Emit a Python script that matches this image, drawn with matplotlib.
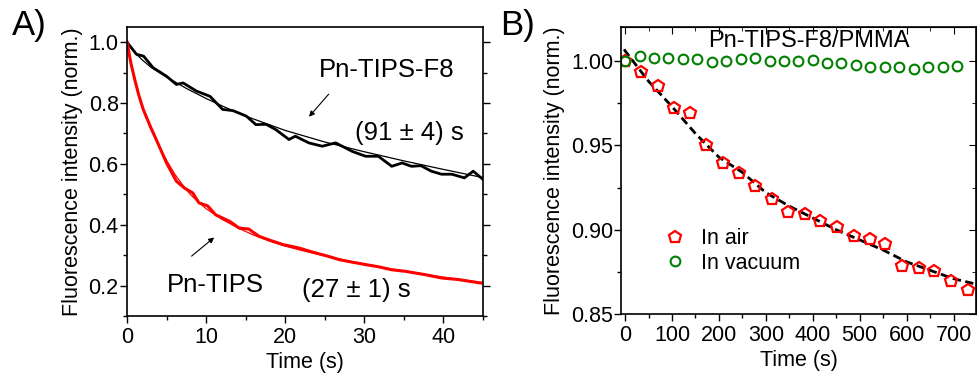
import matplotlib.pyplot as plt
from matplotlib.ticker import MultipleLocator

plt.rcParams['font.family'] = ['Liberation Sans', 'DejaVu Sans']
plt.rcParams['font.size'] = 15.5

# ---- panel A data ----
f8_t = [0, 1.2, 2.1, 3.3, 5.0, 6.25, 7.1, 8.8, 10.5, 12.1, 13.4, 15.1, 16.3, 17.6, 18.8,
        20.5, 21.3, 23.0, 24.7, 26.4, 28.5, 30.2, 31.8, 33.5, 34.8, 36.0, 37.2, 38.5,
        39.8, 41.1, 42.7, 43.8, 45]
f8_v = [1.0, 0.96, 0.954, 0.916, 0.888, 0.861, 0.866, 0.839, 0.822, 0.779, 0.775, 0.757,
        0.729, 0.73, 0.713, 0.68, 0.691, 0.669, 0.658, 0.669, 0.641, 0.625, 0.625, 0.592,
        0.603, 0.592, 0.594, 0.576, 0.566, 0.566, 0.554, 0.576, 0.55]
f8_fit_t = [0, 1, 2, 3, 5, 7.5, 10, 12.5, 15, 20, 25, 30, 35, 40, 45]
f8_fit_v = [1.0, 0.965, 0.94, 0.918, 0.885, 0.848, 0.815, 0.785, 0.757, 0.71, 0.672,
            0.64, 0.61, 0.582, 0.555]

tips_t = [0, 0.5, 1.0, 1.5, 2.05, 3.0, 3.7, 5.0, 6.25, 7.3, 8.3, 9.1, 10.2, 11.2, 13.0,
          14.2, 15.4, 16.7, 18.2, 19.7, 21.7, 23.5, 25.5, 26.9, 28.5, 30.2, 31.8, 33.5,
          35.2, 37.7, 39.8, 41.9, 44.6, 45]
tips_v = [1.0, 0.93, 0.875, 0.825, 0.779, 0.72, 0.68, 0.603, 0.543, 0.52, 0.505, 0.472,
          0.462, 0.433, 0.411, 0.389, 0.386, 0.362, 0.348, 0.335, 0.324, 0.31, 0.296,
          0.285, 0.277, 0.269, 0.262, 0.252, 0.247, 0.236, 0.225, 0.22, 0.209, 0.208]
tips_fit_t = [0, 0.5, 1, 1.5, 2, 3, 4, 5, 6, 7, 8, 9, 10, 12, 14, 16, 18, 20, 22, 25, 28,
              31, 34, 37, 40, 43, 45]
tips_fit_v = [1.0, 0.93, 0.872, 0.823, 0.78, 0.715, 0.66, 0.612, 0.568, 0.532, 0.5, 0.475,
              0.453, 0.418, 0.39, 0.366, 0.347, 0.33, 0.316, 0.298, 0.281, 0.266, 0.252,
              0.24, 0.228, 0.217, 0.21]

# ---- panel B data ----
air_t = [0, 34, 71, 104, 138, 173, 209, 243, 277, 313, 348, 383, 416, 452, 488, 521, 555,
         590, 626, 659, 695, 730]
air_v = [1.0, 0.9937, 0.9854, 0.972, 0.9694, 0.9502, 0.9394, 0.9334, 0.9261, 0.918,
         0.9105, 0.9094, 0.905, 0.9015, 0.8963, 0.8947, 0.8914, 0.8788, 0.8776, 0.8758,
         0.8699, 0.8643]
vac_t = [0, 31, 62, 92, 123, 154, 185, 215, 246, 277, 308, 338, 369, 400, 431, 461, 492,
         523, 554, 584, 615, 646, 677, 708]
vac_v = [1.0, 1.0032, 1.002, 1.002, 1.0012, 1.001, 0.9996, 0.9998, 1.0014, 1.002, 1.0002,
         1.0002, 0.9998, 1.0006, 0.9988, 0.999, 0.9976, 0.9964, 0.9962, 0.9964, 0.9955,
         0.9962, 0.9962, 0.9972]
air_fit_t = [-2, 0, 50, 100, 150, 200, 250, 300, 350, 400, 450, 500, 550, 600, 650, 700, 745]
air_fit_v = [1.007, 1.006, 0.988, 0.973, 0.957, 0.943, 0.934, 0.922, 0.914, 0.907, 0.900,
             0.894, 0.888, 0.881, 0.876, 0.871, 0.868]

fig = plt.figure(figsize=(9.77, 3.74), dpi=100)
axA = fig.add_axes([0.130, 0.155, 0.364, 0.773])
axB = fig.add_axes([0.636, 0.160, 0.363, 0.767])

# panel A
axA.plot(f8_t, f8_v, color='black', lw=2)
axA.plot(f8_fit_t, f8_fit_v, color='black', lw=0.9)
axA.plot(tips_t, tips_v, color='red', lw=2.2)
axA.plot(tips_fit_t, tips_fit_v, color='red', lw=0.9)
axA.set_xlim(0, 45)
axA.set_ylim(0.1, 1.05)
axA.xaxis.set_major_locator(MultipleLocator(10))
axA.xaxis.set_minor_locator(MultipleLocator(5))
axA.yaxis.set_major_locator(MultipleLocator(0.2))
axA.yaxis.set_minor_locator(MultipleLocator(0.1))
axA.set_xlabel('Time (s)', labelpad=3)
axA.set_ylabel('Fluorescence intensity (norm.)', labelpad=4)
axA.text(24.3, 0.907, 'Pn-TIPS-F8', fontsize=18.5, va='center')
axA.text(28.8, 0.703, '(91 ± 4) s', fontsize=18.5, va='center')
axA.text(5.0, 0.203, 'Pn-TIPS', fontsize=18.5, va='center')
axA.text(22.1, 0.187, '(27 ± 1) s', fontsize=18.5, va='center')
axA.annotate('', xy=(22.8, 0.748), xytext=(25.75, 0.836),
             arrowprops=dict(arrowstyle='-|>', color='black', lw=0.8, mutation_scale=8))
axA.annotate('', xy=(11.3, 0.364), xytext=(7.9, 0.291),
             arrowprops=dict(arrowstyle='-|>', color='black', lw=0.8, mutation_scale=8))
axA.tick_params(which='both', direction='out', right=True, top=False)

# panel B
axB.plot(air_fit_t, air_fit_v, color='black', lw=2, ls=(0, (3, 1.6)))
axB.plot(air_t, air_v, ls='none', marker='p', ms=9, mfc='none', mec='red', mew=1.6,
         label='In air')
axB.plot(vac_t, vac_v, ls='none', marker='o', ms=7, mfc='none', mec='green', mew=1.5,
         label='In vacuum')
axB.set_xlim(-8, 748)
axB.set_ylim(0.85, 1.02)
axB.xaxis.set_major_locator(MultipleLocator(100))
axB.xaxis.set_minor_locator(MultipleLocator(50))
axB.yaxis.set_major_locator(MultipleLocator(0.05))
axB.yaxis.set_minor_locator(MultipleLocator(0.025))
axB.set_xlabel('Time (s)', labelpad=3)
axB.set_ylabel('Fluorescence intensity (norm.)', labelpad=4)
axB.text(0.529, 0.952, 'Pn-TIPS-F8/PMMA', transform=axB.transAxes, ha='center',
         va='center', fontsize=17)
axB.legend(loc='center left', bbox_to_anchor=(0.06, 0.22), frameon=False,
           handletextpad=0.6, labelspacing=0.15, handlelength=1.2, fontsize=15.5)
axB.tick_params(which='both', direction='out')

# mirrored ticks pointing inward on top and right of panel B
sec_top = axB.secondary_xaxis('top')
sec_top.xaxis.set_major_locator(MultipleLocator(100))
sec_top.xaxis.set_minor_locator(MultipleLocator(50))
sec_top.tick_params(which='both', direction='in', labeltop=False, length=5)
sec_top.tick_params(which='minor', length=3)
sec_right = axB.secondary_yaxis('right')
sec_right.yaxis.set_major_locator(MultipleLocator(0.05))
sec_right.yaxis.set_minor_locator(MultipleLocator(0.025))
sec_right.tick_params(which='both', direction='in', labelright=False, length=5)
sec_right.tick_params(which='minor', length=3)

for ax in (axA, axB):
    ax.tick_params(which='major', length=5, width=1)
    ax.tick_params(which='minor', length=3, width=1)
    ax.tick_params(axis='x', pad=3)
    ax.tick_params(axis='y', pad=1)
    for s in ax.spines.values():
        s.set_linewidth(1.2)

fig.text(0.012, 0.975, 'A)', fontsize=25, va='top')
fig.text(0.512, 0.975, 'B)', fontsize=25, va='top')

fig.savefig('out.png', dpi=100)
